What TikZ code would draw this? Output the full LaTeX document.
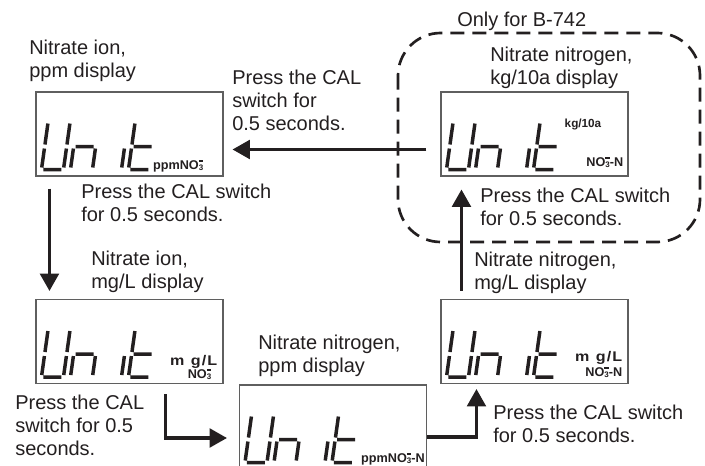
\documentclass[tikz,border=0pt]{standalone}
\usepackage{fontspec}
\setmainfont{Liberation Sans}
\newfontfamily\lcdfont[FakeStretch=1.15]{Liberation Sans}
\usetikzlibrary{arrows.meta,calc}
\definecolor{Ink}{RGB}{35,31,32}
\definecolor{Frame}{RGB}{95,95,95}
\newcommand{\nothree}{NO\rlap{\raisebox{5.8pt}{\rule{3.4pt}{1pt}}}\raisebox{-0.6pt}{\fontsize{6}{6}\selectfont 3}}
\newcommand{\mgunit}{m\hspace{5pt}g\hspace{0.8pt}/\hspace{0.8pt}L}
\tikzset{
  lcdbox/.style={draw=Frame,line width=0.8pt,minimum width=140.25pt,minimum height=63pt,inner sep=0pt},
  lcdseg/.style={draw=Ink,line width=2.6pt},
  unitlabel/.style={font=\bfseries\fontsize{9.5}{10}\selectfont,text=Ink,inner sep=0pt},
  volumelabel/.style={font=\lcdfont\bfseries\fontsize{10.5}{11}\selectfont,text=Ink,inner sep=0pt},
  note/.style={align=left,anchor=north west,inner sep=0pt,text=Ink,font=\fontsize{15}{17}\selectfont},
  steparrow/.style={-{Triangle[length=13pt,width=14pt]},draw=Ink,line width=2.4pt},
  onlyframe/.style={draw=Ink,line width=2pt,dash pattern=on 10.5pt off 6pt,rounded corners=32pt}
}
\newcommand{\unitlcd}[1]{%
  \begin{scope}[shift={(#1)},xslant=0.14]
    \draw[lcdseg] (0,-46)--(0,-25) (0,-21)--(0,-2) (2,0)--(20,0) (22,-2)--(22,-21) (22,-25)--(22,-46);
    \draw[lcdseg] (29,-2)--(29,-21) (31,-23)--(49,-23) (51,-21)--(51,-2);
    \draw[lcdseg] (80,-2)--(80,-21);
    \draw[lcdseg] (87,-46)--(87,-25) (87,-21)--(87,-2) (89,-23)--(107,-23) (89,0)--(107,0);
  \end{scope}}

\begin{document}
\begin{tikzpicture}[x=0.75pt,y=-0.75pt]
\useasboundingbox (0,0) rectangle (705,466);
\draw[onlyframe] (398,33) rectangle (700,242);

\node[lcdbox] (ionppm) at (129.5,134) {};
\node[lcdbox] (kgten) at (534.5,134) {};
\node[lcdbox] (ionmg) at (129.5,341.5) {};
\node[lcdbox] (nitmg) at (534.5,341.5) {};
\node[lcdbox] (nitppm) at (333,427) {};

\unitlcd{$(ionppm.south west)+(6,-7)$}
\unitlcd{$(kgten.south west)+(6,-7)$}
\unitlcd{$(ionmg.south west)+(6,-7)$}
\unitlcd{$(nitmg.south west)+(6,-7)$}
\unitlcd{$(nitppm.south west)+(6,-7)$}

\node[unitlabel,anchor=base east] (ionppmunit) at ($(ionppm.south east)+(-20,-7)$) {ppm\nothree};
\node[unitlabel,anchor=base west,font=\bfseries\fontsize{8.8}{10}\selectfont] (kgtenunit) at ($(kgten.north west)+(124,36)$) {kg/10a};
\node[unitlabel,anchor=base east] (kgtenion) at ($(kgten.south east)+(-5,-10)$) {\nothree-N};
\node[volumelabel,anchor=base east] (ionmgunit) at ($(ionmg.south east)+(-6,-18.5)$) {\mgunit};
\node[unitlabel,anchor=base east] (ionmgion) at ($(ionmg.south east)+(-12,-5.5)$) {\nothree};
\node[volumelabel,anchor=base east] (nitmgunit) at ($(nitmg.south east)+(-6,-22.5)$) {\mgunit};
\node[unitlabel,anchor=base east] (nitmgion) at ($(nitmg.south east)+(-6,-7.5)$) {\nothree-N};
\node[unitlabel,anchor=base east] (nitppmunit) at ($(nitppm.south east)+(-2,-7)$) {ppm\nothree-N};

\draw[steparrow] ($(kgten.west)+(-14,15.5)$) -- ($(ionppm.east)+(9,15.5)$);
\draw[steparrow] ($(ionppm.south west)+(14,12)$) -- ($(ionmg.north west)+(14,-8)$);
\draw[steparrow] ($(ionmg.south east)+(-58,10)$) |- ($(nitppm.west)+(-12,11)$);
\draw[steparrow] ($(nitppm.east)+(0,10)$) -| ($(nitmg.south west)+(36,5)$);
\draw[steparrow] ($(nitmg.north west)+(21,-8)$) -- ($(kgten.south west)+(21,13)$);

\node[note] (onlyb) at (457,12) {Only for B-742};
\node[note] (ionppmtitle) at (29,40) {Nitrate ion,\\ppm display};
\node[note] (kgtentitle) at (490,47) {Nitrate nitrogen,\\kg/10a display};
\node[note] (ionmgtitle) at (91,251) {Nitrate ion,\\mg/L display};
\node[note] (nitmgtitle) at (474,252) {Nitrate nitrogen,\\mg/L display};
\node[note] (nitppmtitle) at (258,335) {Nitrate nitrogen,\\ppm display};
\node[note] (presstop) at (232,70) {Press the CAL\\switch for\\0.5 seconds.};
\node[note] (pressleft) at (81,184) {Press the CAL switch\\for 0.5 seconds.};
\node[note] (pressright) at (480,188) {Press the CAL switch\\for 0.5 seconds.};
\node[note] (pressbottom) at (15,395) {Press the CAL\\switch for 0.5\\seconds.};
\node[note] (pressbottomright) at (493,405) {Press the CAL switch\\for 0.5 seconds.};
\end{tikzpicture}
\end{document}
